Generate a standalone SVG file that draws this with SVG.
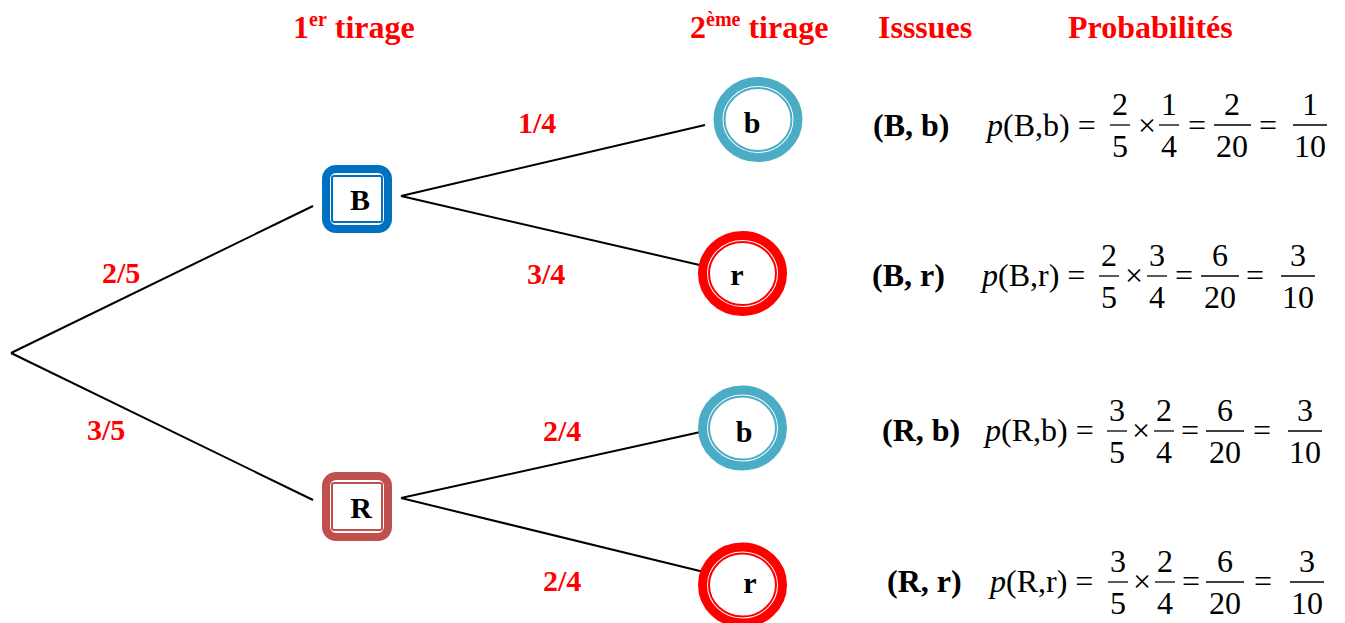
<svg xmlns="http://www.w3.org/2000/svg" width="1345" height="623" viewBox="0 0 1345 623">
<style>
text{font-family:"Liberation Serif","Times New Roman",serif;}
.h{font-size:32px;font-weight:bold;fill:#FF0000;}
.sup{font-size:20px;}
.lab{font-size:30px;font-weight:bold;fill:#FF0000;}
.nl{font-size:30px;font-weight:bold;fill:#000;text-anchor:middle;}
.iss{font-size:32px;font-weight:bold;fill:#000;}
.f{font-size:32px;fill:#000;}
.fc{font-size:32px;fill:#000;text-anchor:middle;}
.bar{stroke:#000;stroke-width:1.3;}
.edge{stroke:#000;stroke-width:2;fill:none;}
.bo{fill:#fff;stroke:#0070C0;stroke-width:8;}
.bi{fill:none;stroke:#0070C0;stroke-width:2;}
.ro{fill:#fff;stroke:#C0504D;stroke-width:8;}
.ri{fill:none;stroke:#C0504D;stroke-width:2;}
.co{fill:#fff;stroke-width:9;}
.ci{fill:none;stroke-width:2;}
.cb{stroke:#4BACC6;}
.cr{stroke:#FF0000;}
</style>
<rect width="1345" height="623" fill="#fff"/>
<g id="headings">
<text class="h" x="293" y="38">1<tspan class="sup" dy="-12">er</tspan><tspan dy="12"> tirage</tspan></text>
<text class="h" x="690" y="38">2<tspan class="sup" dy="-12">ème</tspan><tspan dy="12"> tirage</tspan></text>
<text class="h" x="878" y="38">Isssues</text>
<text class="h" x="1068" y="38">Probabilités</text>
</g>
<g id="connectors">
<line class="edge" x1="11" y1="353" x2="313" y2="206"/>
<line class="edge" x1="11" y1="353" x2="313" y2="500"/>
<line class="edge" x1="401" y1="196" x2="705" y2="125"/>
<line class="edge" x1="401" y1="196" x2="704" y2="266"/>
<line class="edge" x1="401" y1="498" x2="705" y2="431"/>
<line class="edge" x1="401" y1="498" x2="704" y2="572"/>
</g>
<g id="edge-labels">
<text class="lab" x="102" y="283">2/5</text>
<text class="lab" x="87" y="440">3/5</text>
<text class="lab" x="518" y="133">1/4</text>
<text class="lab" x="527" y="284">3/4</text>
<text class="lab" x="543" y="441">2/4</text>
<text class="lab" x="543" y="591">2/4</text>
</g>
<g id="node-B">
<rect class="bo" x="326" y="169" width="62" height="60" rx="10"/>
<rect class="bi" x="332" y="176" width="50" height="46" rx="2"/>
<text class="nl" x="360" y="210">B</text>
</g>
<g id="node-R">
<rect class="ro" x="326" y="476" width="62" height="61" rx="10"/>
<rect class="ri" x="332" y="483" width="50" height="47" rx="2"/>
<text class="nl" x="361" y="518">R</text>
</g>
<g id="node-Bb">
<ellipse class="co cb" cx="758" cy="119.5" rx="40" ry="38"/>
<ellipse class="ci cb" cx="758" cy="119.5" rx="33.5" ry="31.5"/>
<text class="nl" x="752" y="133">b</text>
</g>
<g id="node-Br">
<ellipse class="co cr" cx="742.5" cy="273.5" rx="40" ry="38"/>
<ellipse class="ci cr" cx="742.5" cy="273.5" rx="33.5" ry="31.5"/>
<text class="nl" x="737" y="285">r</text>
</g>
<g id="node-Rb">
<ellipse class="co cb" cx="742.5" cy="428" rx="40" ry="38"/>
<ellipse class="ci cb" cx="742.5" cy="428" rx="33.5" ry="31.5"/>
<text class="nl" x="744" y="442">b</text>
</g>
<g id="node-Rr">
<ellipse class="co cr" cx="742.5" cy="585" rx="40" ry="38"/>
<ellipse class="ci cr" cx="742.5" cy="585" rx="33.5" ry="31.5"/>
<text class="nl" x="750" y="593">r</text>
</g>
<g id="row1">
<text class="iss" x="873" y="136">(B, b)</text>
<text class="f" x="987" y="136"><tspan font-style="italic">p</tspan>(B,b) =</text>
<text class="fc" x="1120" y="115">2</text><line class="bar" x1="1110" y1="125" x2="1130" y2="125"/><text class="fc" x="1120" y="157">5</text>
<text class="fc" x="1147" y="136">×</text>
<text class="fc" x="1169" y="115">1</text><line class="bar" x1="1159" y1="125" x2="1179" y2="125"/><text class="fc" x="1169" y="157">4</text>
<text class="fc" x="1197" y="136">=</text>
<text class="fc" x="1232" y="115">2</text><line class="bar" x1="1214" y1="125" x2="1251" y2="125"/><text class="fc" x="1232" y="157">20</text>
<text class="fc" x="1268" y="136">=</text>
<text class="fc" x="1310" y="115">1</text><line class="bar" x1="1293" y1="125" x2="1327" y2="125"/><text class="fc" x="1310" y="157">10</text>
</g>
<g id="row2">
<text class="iss" x="872" y="286">(B, r)</text>
<text class="f" x="982" y="286"><tspan font-style="italic">p</tspan>(B,r) =</text>
<text class="fc" x="1109" y="266">2</text><line class="bar" x1="1099" y1="276" x2="1119" y2="276"/><text class="fc" x="1109" y="308">5</text>
<text class="fc" x="1134" y="286">×</text>
<text class="fc" x="1157" y="266">3</text><line class="bar" x1="1147" y1="276" x2="1167" y2="276"/><text class="fc" x="1157" y="308">4</text>
<text class="fc" x="1184" y="286">=</text>
<text class="fc" x="1220" y="266">6</text><line class="bar" x1="1201" y1="276" x2="1239" y2="276"/><text class="fc" x="1220" y="308">20</text>
<text class="fc" x="1255" y="286">=</text>
<text class="fc" x="1298" y="266">3</text><line class="bar" x1="1281" y1="276" x2="1315" y2="276"/><text class="fc" x="1298" y="308">10</text>
</g>
<g id="row3">
<text class="iss" x="882" y="441">(R, b)</text>
<text class="f" x="985" y="441"><tspan font-style="italic">p</tspan>(R,b) =</text>
<text class="fc" x="1117" y="421">3</text><line class="bar" x1="1107" y1="431" x2="1127" y2="431"/><text class="fc" x="1117" y="463">5</text>
<text class="fc" x="1141" y="441">×</text>
<text class="fc" x="1164" y="421">2</text><line class="bar" x1="1154" y1="431" x2="1174" y2="431"/><text class="fc" x="1164" y="463">4</text>
<text class="fc" x="1190" y="441">=</text>
<text class="fc" x="1225" y="421">6</text><line class="bar" x1="1206" y1="431" x2="1244" y2="431"/><text class="fc" x="1225" y="463">20</text>
<text class="fc" x="1262" y="441">=</text>
<text class="fc" x="1305" y="421">3</text><line class="bar" x1="1288" y1="431" x2="1322" y2="431"/><text class="fc" x="1305" y="463">10</text>
</g>
<g id="row4">
<text class="iss" x="887" y="592">(R, r)</text>
<text class="f" x="990" y="592"><tspan font-style="italic">p</tspan>(R,r) =</text>
<text class="fc" x="1118" y="572">3</text><line class="bar" x1="1108" y1="582" x2="1128" y2="582"/><text class="fc" x="1118" y="614">5</text>
<text class="fc" x="1142" y="592">×</text>
<text class="fc" x="1165" y="572">2</text><line class="bar" x1="1155" y1="582" x2="1175" y2="582"/><text class="fc" x="1165" y="614">4</text>
<text class="fc" x="1191" y="592">=</text>
<text class="fc" x="1225" y="572">6</text><line class="bar" x1="1206" y1="582" x2="1244" y2="582"/><text class="fc" x="1225" y="614">20</text>
<text class="fc" x="1263" y="592">=</text>
<text class="fc" x="1307" y="572">3</text><line class="bar" x1="1290" y1="582" x2="1324" y2="582"/><text class="fc" x="1307" y="614">10</text>
</g>
</svg>
